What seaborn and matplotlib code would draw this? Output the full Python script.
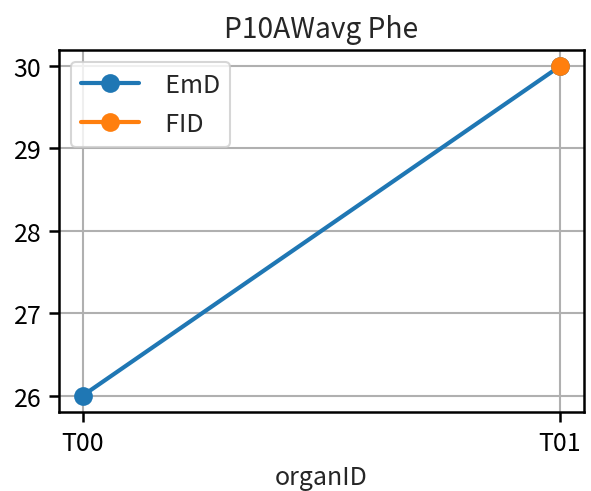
import pandas as pd
import matplotlib
matplotlib.use('Agg')
import matplotlib.pyplot as plt
import seaborn as sns

# data
organ_ids = ['T00', 'T01']
emd_values = [26, 30]
fid_organs = ['T01']
fid_values = [30]
group_names = ['EmD', 'FID']

df = pd.DataFrame({
    'organID': organ_ids + fid_organs,
    'value': emd_values + fid_values,
    'group': [group_names[0]] * len(emd_values) + [group_names[1]] * len(fid_values),
})

sns.set_style('ticks')
plt.rcParams['font.family'] = ['Noto Sans CJK SC', 'DejaVu Sans']
plt.rcParams['font.size'] = 12

fig, ax = plt.subplots(figsize=(591 / 150, 492 / 150), dpi=150)
fig.subplots_adjust(left=0.0998, right=0.988, bottom=0.1606, top=0.897)

sns.lineplot(data=df, x='organID', y='value', hue='group', marker='o',
             markersize=9, markeredgewidth=0, linewidth=2, sort=False,
             palette=['#1f77b4', '#ff7f0e'], ax=ax)

ax.grid(True, color='#b0b0b0', linewidth=1)
ax.set_axisbelow(True)
for s in ax.spines.values():
    s.set_color('black')
    s.set_linewidth(1.2)
ax.tick_params(colors='black', length=5, width=1.2, labelsize=12)
ax.set_title('P10AWavg Phe', fontsize=13.5)
ax.set_xlabel('organID', fontsize=12)
ax.set_ylabel('')
ax.set_yticks([26, 27, 28, 29, 30])

handles, labels = ax.get_legend_handles_labels()
ax.legend(handles, ['  ' + l for l in labels], loc='upper left',
          handlelength=2.3, handletextpad=0.6, fontsize=12)

fig.savefig('out.png', dpi=150)
